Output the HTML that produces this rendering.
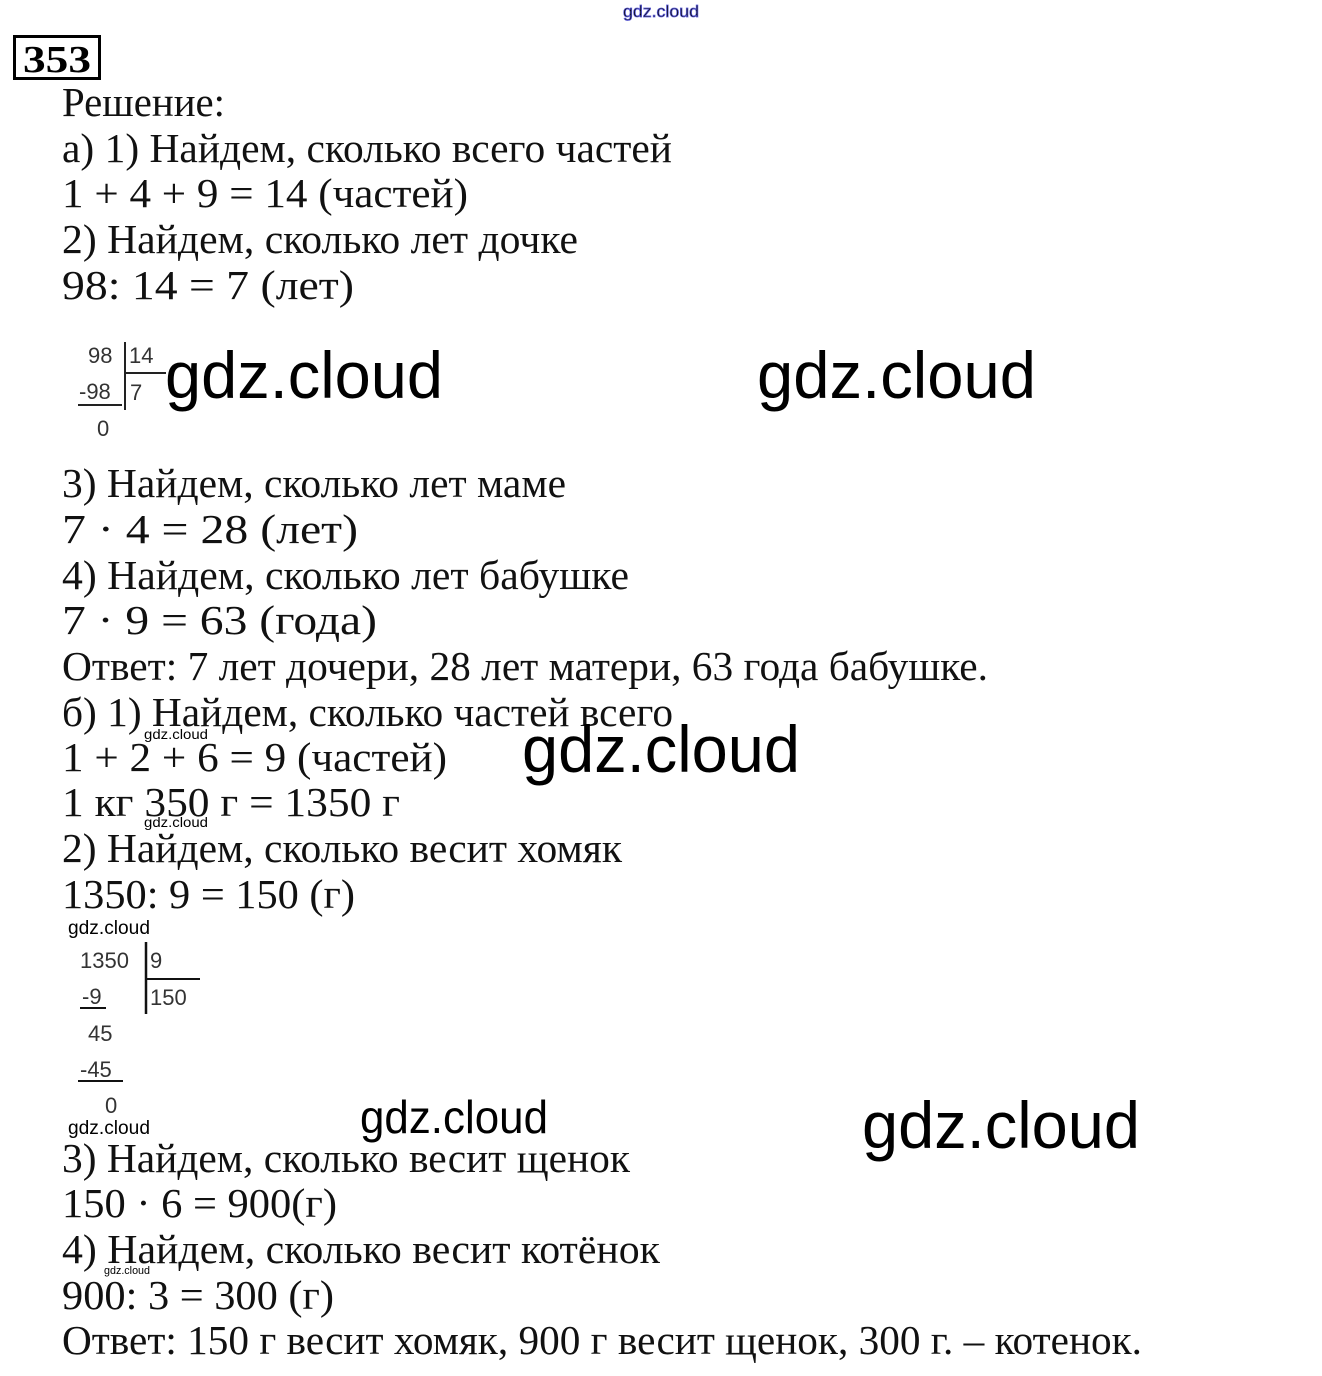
<!DOCTYPE html>
<html><head><meta charset="utf-8"><style>
html,body{margin:0;padding:0;background:#fff;}
svg{display:block;}
.m{font-family:"Liberation Serif",serif;font-size:41px;fill:#111;}
.w{font-family:"Liberation Sans",sans-serif;fill:#000;}
.d{font-family:"Liberation Sans",sans-serif;font-size:22px;fill:#333;}
</style></head><body>
<svg width="1322" height="1376" viewBox="0 0 1322 1376" xmlns="http://www.w3.org/2000/svg">
<text x="623" y="17" class="w" font-size="17" fill="none" stroke="#5b5bd6" stroke-width="0.8" textLength="76" lengthAdjust="spacingAndGlyphs">gdz.cloud</text>
<rect x="14.5" y="36.5" width="85" height="42" fill="none" stroke="#000" stroke-width="3"/>
<text x="23" y="72" font-family="Liberation Serif,serif" font-weight="bold" font-size="38" textLength="68" lengthAdjust="spacingAndGlyphs">353</text>
<g class="m">
<text x="62" y="116" textLength="163" lengthAdjust="spacingAndGlyphs">Решение:</text>
<text x="62" y="162" textLength="610" lengthAdjust="spacingAndGlyphs">а) 1) Найдем, сколько всего частей</text>
<text x="62" y="207" textLength="406" lengthAdjust="spacingAndGlyphs">1 + 4 + 9 = 14 (частей)</text>
<text x="62" y="253" textLength="516" lengthAdjust="spacingAndGlyphs">2) Найдем, сколько лет дочке</text>
<text x="62" y="299" textLength="292" lengthAdjust="spacingAndGlyphs">98: 14  =  7 (лет)</text>
<text x="62" y="497" textLength="504" lengthAdjust="spacingAndGlyphs">3) Найдем, сколько лет маме</text>
<text x="62" y="543" textLength="296" lengthAdjust="spacingAndGlyphs">7  ·  4  =  28 (лет)</text>
<text x="62" y="589" textLength="567" lengthAdjust="spacingAndGlyphs">4) Найдем, сколько лет бабушке</text>
<text x="62" y="634" textLength="315" lengthAdjust="spacingAndGlyphs">7  ·  9  =  63 (года)</text>
<text x="62" y="680" textLength="926" lengthAdjust="spacingAndGlyphs">Ответ: 7 лет дочери, 28 лет матери, 63 года бабушке.</text>
<text x="62" y="726" textLength="611" lengthAdjust="spacingAndGlyphs">б) 1) Найдем, сколько частей всего</text>
<text x="62" y="771" textLength="385" lengthAdjust="spacingAndGlyphs">1 + 2 + 6 = 9 (частей)</text>
<text x="62" y="816" textLength="338" lengthAdjust="spacingAndGlyphs">1 кг 350 г =  1350 г</text>
<text x="62" y="862" textLength="560" lengthAdjust="spacingAndGlyphs">2) Найдем, сколько весит хомяк</text>
<text x="62" y="908" textLength="293" lengthAdjust="spacingAndGlyphs">1350: 9 = 150 (г)</text>
<text x="62" y="1172" textLength="568" lengthAdjust="spacingAndGlyphs">3) Найдем, сколько весит щенок</text>
<text x="62" y="1217" textLength="275" lengthAdjust="spacingAndGlyphs">150 · 6 = 900(г)</text>
<text x="62" y="1263" textLength="598" lengthAdjust="spacingAndGlyphs">4) Найдем, сколько весит котёнок</text>
<text x="62" y="1309" textLength="272" lengthAdjust="spacingAndGlyphs">900: 3 = 300 (г)</text>
<text x="62" y="1354" textLength="1080" lengthAdjust="spacingAndGlyphs">Ответ: 150 г весит хомяк, 900 г весит щенок, 300 г. –  котенок.</text>
</g>
<g class="w">
<text x="165" y="398" font-size="66" textLength="278" lengthAdjust="spacingAndGlyphs">gdz.cloud</text>
<text x="757" y="398" font-size="66" textLength="279" lengthAdjust="spacingAndGlyphs">gdz.cloud</text>
<text x="522" y="772" font-size="66" textLength="278" lengthAdjust="spacingAndGlyphs">gdz.cloud</text>
<text x="360" y="1133" font-size="46" textLength="188" lengthAdjust="spacingAndGlyphs">gdz.cloud</text>
<text x="862" y="1148" font-size="66" textLength="278" lengthAdjust="spacingAndGlyphs">gdz.cloud</text>
<text x="144" y="739" font-size="14" textLength="64" lengthAdjust="spacingAndGlyphs">gdz.cloud</text>
<text x="144" y="827" font-size="14" textLength="64" lengthAdjust="spacingAndGlyphs">gdz.cloud</text>
<text x="68" y="934" font-size="19" textLength="82" lengthAdjust="spacingAndGlyphs">gdz.cloud</text>
<text x="68" y="1134" font-size="19" textLength="82" lengthAdjust="spacingAndGlyphs">gdz.cloud</text>
<text x="104" y="1274" font-size="11" textLength="46" lengthAdjust="spacingAndGlyphs">gdz.cloud</text>
</g>
<g class="d">
<text x="88" y="363">98</text>
<text x="129" y="363">14</text>
<text x="79" y="399">-98</text>
<text x="130" y="400">7</text>
<text x="97" y="436">0</text>
</g>
<line x1="125" y1="342" x2="125" y2="410" stroke="#222" stroke-width="2"/>
<line x1="125" y1="373" x2="166" y2="373" stroke="#222" stroke-width="2"/>
<line x1="78" y1="405" x2="122" y2="405" stroke="#222" stroke-width="2"/>
<g class="d" font-size="23">
<text x="80" y="968">1350</text>
<text x="150" y="968">9</text>
<text x="82" y="1004">-9</text>
<text x="150" y="1005">150</text>
<text x="88" y="1041">45</text>
<text x="80" y="1077">-45</text>
<text x="105" y="1113">0</text>
</g>
<line x1="146" y1="942" x2="146" y2="1014" stroke="#111" stroke-width="2.5"/>
<line x1="146" y1="979" x2="200" y2="979" stroke="#111" stroke-width="2"/>
<line x1="80" y1="1008" x2="106" y2="1008" stroke="#111" stroke-width="2"/>
<line x1="78" y1="1081" x2="123" y2="1081" stroke="#111" stroke-width="2"/>
</svg>
</body></html>
